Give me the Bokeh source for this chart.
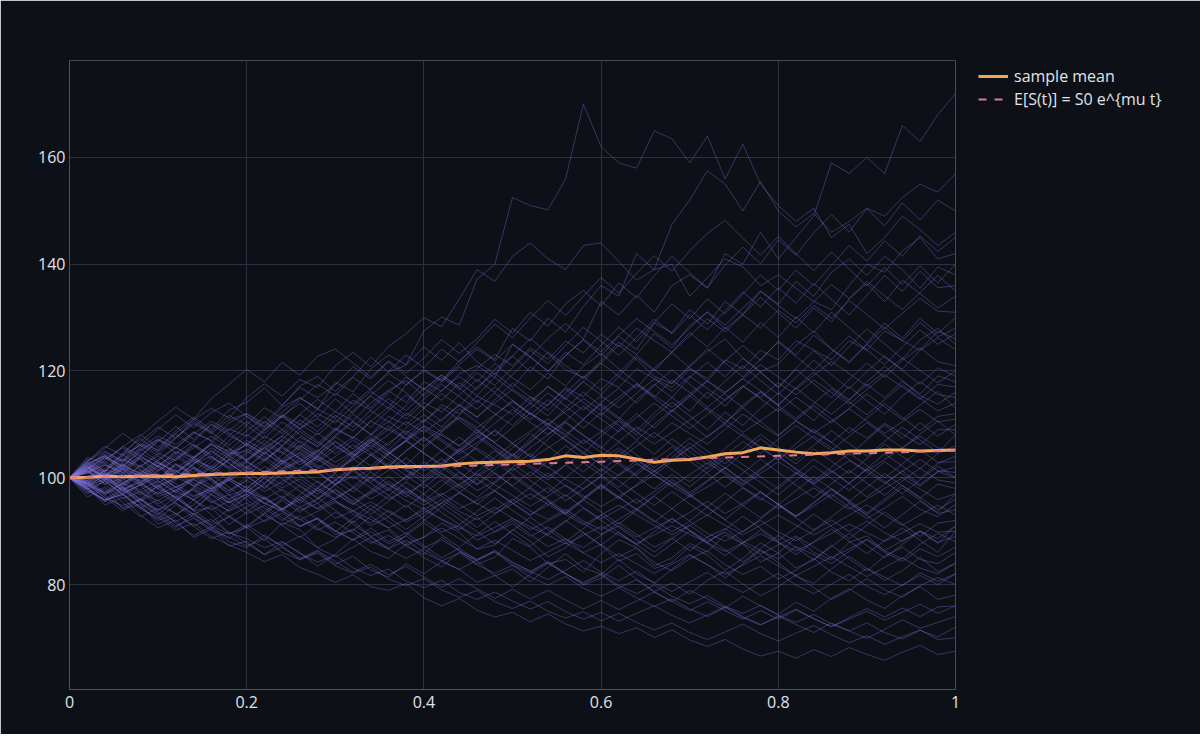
from bokeh.models import ColumnDataSource, Range1d, FixedTicker, Legend, LegendItem
from bokeh.plotting import figure
from bokeh.embed import file_html
from bokeh.resources import INLINE

# time grid of the simulated paths (years)
times = [0.00, 0.02, 0.04, 0.06, 0.08, 0.10, 0.12, 0.14, 0.16, 0.18, 0.20,
         0.22, 0.24, 0.26, 0.28, 0.30, 0.32, 0.34, 0.36, 0.38, 0.40,
         0.42, 0.44, 0.46, 0.48, 0.50, 0.52, 0.54, 0.56, 0.58, 0.60,
         0.62, 0.64, 0.66, 0.68, 0.70, 0.72, 0.74, 0.76, 0.78, 0.80,
         0.82, 0.84, 0.86, 0.88, 0.90, 0.92, 0.94, 0.96, 0.98, 1.00]

# sample mean across paths
sample_mean = [100.0, 100.1, 100.3, 100.2, 100.3, 100.3, 100.2, 100.4, 100.6, 100.7, 100.8,
               100.8, 100.9, 101.0, 101.1, 101.5, 101.7, 101.8, 102.0, 102.1, 102.1,
               102.2, 102.6, 102.8, 102.9, 103.0, 103.1, 103.4, 104.1, 103.8, 104.2,
               104.1, 103.5, 102.9, 103.3, 103.4, 103.9, 104.5, 104.7, 105.6, 105.2,
               104.8, 104.5, 104.7, 105.0, 105.0, 105.2, 105.2, 105.0, 105.1, 105.2]

# expected value E[S(t)]
exp_times = [0.0, 0.1, 0.2, 0.3, 0.4, 0.5, 0.6, 0.7, 0.8, 0.9, 1.0]
exp_values = [100.0, 100.5, 101.0, 101.5, 102.0, 102.5, 103.0, 103.6, 104.1, 104.6, 105.1]

# individual simulated paths
path_01 = [100, 102.3, 101.1, 104.0, 106.2, 104.8, 107.5, 110.1, 108.3, 110.9, 112.0,
           109.6, 113.2, 115.0, 112.8, 117.9, 116.1, 120.4, 123.0, 121.2, 127.5,
           130.1, 128.6, 137.2, 140.0, 152.5, 151.0, 150.2, 156.0, 170.0, 162.0,
           159.0, 158.0, 165.0, 163.5, 159.0, 164.0, 156.0, 162.5, 155.0, 151.0,
           148.0, 150.5, 145.0, 147.5, 142.0, 145.0, 149.0, 146.5, 143.5, 146.0]
path_02 = [100, 98.6, 100.9, 99.4, 102.2, 104.1, 101.8, 103.9, 106.3, 105.0, 108.1,
           106.2, 109.0, 111.8, 109.5, 112.4, 110.7, 114.0, 116.3, 114.1, 118.0,
           116.2, 119.5, 121.0, 118.8, 125.0, 122.6, 126.1, 128.9, 126.0, 133.0,
           130.5, 134.2, 131.0, 136.0, 138.0, 135.5, 142.0, 140.0, 146.0, 141.0,
           145.0, 149.0, 159.0, 157.0, 160.0, 157.0, 166.0, 163.0, 168.0, 172.0]
path_03 = [100, 101.4, 99.7, 102.5, 100.8, 103.2, 105.6, 103.9, 101.6, 104.4, 105.0,
           107.8, 106.0, 109.3, 111.1, 108.9, 112.6, 115.3, 113.0, 117.4, 120.0,
           118.1, 121.9, 124.5, 122.2, 128.0, 125.6, 129.9, 127.3, 132.1, 136.0,
           134.0, 142.0, 139.0, 147.5, 152.0, 157.5, 155.0, 150.0, 155.5, 150.0,
           147.0, 149.5, 146.0, 148.0, 150.5, 149.0, 152.5, 155.0, 153.5, 157.0]
path_04 = [100, 103.1, 105.0, 103.2, 106.8, 109.5, 107.4, 110.9, 113.0, 111.2, 115.0,
           117.6, 115.3, 118.4, 116.9, 121.0, 123.5, 120.8, 124.6, 127.0, 130.0,
           128.3, 133.5, 139.0, 136.8, 141.5, 144.0, 141.0, 139.0, 143.5, 144.0,
           140.5, 137.0, 139.0, 140.0, 134.0, 137.5, 141.0, 139.5, 136.0, 138.0,
           135.5, 133.0, 131.5, 136.0, 140.0, 138.5, 142.5, 145.0, 141.0, 142.0]
path_05 = [100, 97.8, 99.5, 96.9, 98.8, 97.0, 99.6, 101.9, 100.2, 103.5, 101.8,
           104.6, 102.9, 106.0, 104.1, 107.7, 110.4, 108.1, 111.5, 109.9, 113.0,
           115.8, 113.4, 117.0, 119.6, 116.9, 120.8, 118.5, 123.0, 125.8, 122.9,
           126.5, 124.0, 129.0, 127.2, 131.5, 128.8, 133.0, 130.6, 135.0, 132.5,
           136.8, 134.0, 138.5, 141.0, 137.9, 141.5, 139.0, 135.5, 139.5, 138.0]
path_06 = [100, 101.8, 104.2, 102.0, 105.3, 107.1, 104.6, 106.8, 109.9, 108.0, 110.5,
           108.2, 111.6, 113.9, 111.3, 114.8, 112.1, 115.5, 118.2, 115.9, 113.0,
           116.4, 119.0, 116.5, 120.3, 122.8, 119.9, 123.6, 121.0, 118.6, 122.0,
           125.4, 123.1, 127.0, 124.3, 128.5, 131.0, 127.9, 130.6, 133.8, 130.9,
           128.0, 131.8, 129.2, 133.5, 136.4, 133.0, 137.0, 134.5, 131.8, 134.0]
path_07 = [100, 98.9, 101.3, 103.6, 101.5, 99.7, 102.4, 100.6, 98.5, 101.2, 103.0,
           101.1, 104.3, 106.9, 104.8, 108.0, 110.6, 108.2, 106.0, 109.4, 111.8,
           109.5, 112.9, 110.4, 107.8, 111.2, 114.0, 111.6, 115.2, 118.0, 115.5,
           119.0, 116.8, 120.5, 123.4, 120.6, 118.1, 121.9, 124.8, 122.0, 125.6,
           123.0, 126.7, 124.1, 121.5, 125.0, 128.2, 125.6, 129.1, 126.4, 128.0]
path_08 = [100, 102.0, 100.3, 98.2, 100.9, 103.4, 105.8, 103.5, 106.3, 104.1, 101.9,
           104.8, 102.5, 105.6, 108.4, 106.0, 103.8, 106.9, 109.7, 107.3, 110.6,
           113.2, 110.8, 108.3, 111.7, 114.5, 112.0, 109.6, 113.1, 116.0, 113.4,
           111.0, 114.6, 117.5, 115.0, 118.8, 121.6, 118.9, 122.4, 119.7, 116.9,
           120.5, 123.8, 121.0, 124.6, 127.9, 125.1, 122.3, 125.8, 128.0, 125.0]
path_09 = [100, 99.1, 96.8, 98.9, 101.5, 99.4, 97.2, 99.8, 102.3, 100.1, 103.0,
           105.6, 103.2, 100.9, 103.9, 106.7, 104.3, 107.2, 104.8, 102.4, 105.5,
           108.3, 105.9, 109.1, 106.5, 104.0, 107.4, 110.2, 107.7, 111.0, 113.8,
           111.3, 108.8, 112.1, 115.0, 112.5, 116.1, 113.4, 117.0, 119.8, 116.9,
           120.3, 117.6, 115.0, 118.4, 121.5, 118.8, 122.0, 124.4, 121.7, 121.0]
path_10 = [100, 101.2, 98.9, 101.7, 99.3, 102.0, 104.4, 102.1, 99.8, 97.5, 100.2,
           98.0, 101.3, 103.7, 101.0, 98.6, 101.5, 104.3, 102.0, 105.1, 107.6,
           105.0, 102.7, 106.1, 109.0, 106.4, 103.9, 107.2, 110.3, 107.9, 105.5,
           108.9, 112.0, 109.3, 112.5, 115.4, 112.7, 110.1, 113.6, 116.2, 113.5,
           116.9, 119.8, 117.0, 114.6, 118.0, 120.9, 118.2, 115.7, 119.1, 118.0]
path_11 = [100, 97.6, 95.9, 98.2, 96.0, 93.8, 96.5, 94.1, 97.0, 99.6, 97.3,
           100.1, 102.8, 100.4, 98.1, 101.0, 103.6, 101.2, 104.5, 107.0, 104.6,
           102.2, 105.3, 108.1, 105.7, 103.4, 106.6, 109.5, 107.0, 104.5, 107.8,
           110.6, 108.0, 111.4, 114.2, 111.6, 109.0, 112.3, 109.8, 113.0, 115.9,
           113.3, 110.7, 114.0, 117.1, 114.4, 111.9, 115.3, 118.0, 115.6, 115.0]
path_12 = [100, 103.1, 105.9, 104.2, 107.8, 110.6, 113.2, 111.0, 114.8, 117.5, 120.3,
           118.0, 121.6, 119.2, 122.8, 124.1, 121.5, 118.9, 121.7, 119.0, 116.4,
           119.3, 116.8, 114.1, 117.0, 114.5, 111.8, 114.6, 112.0, 109.3, 112.2,
           109.8, 107.1, 110.0, 112.7, 110.1, 107.6, 110.4, 113.1, 110.5, 108.0,
           110.8, 113.5, 111.0, 108.4, 111.2, 113.9, 111.3, 108.8, 111.5, 112.0]
path_13 = [100, 98.3, 100.6, 98.1, 95.7, 98.4, 96.2, 93.9, 96.8, 94.5, 97.3,
           99.9, 97.5, 95.2, 98.0, 100.7, 98.3, 101.1, 98.8, 96.4, 99.3,
           102.0, 99.6, 102.5, 105.1, 102.7, 100.3, 103.2, 106.0, 103.6, 101.2,
           104.1, 106.9, 104.4, 107.3, 104.9, 102.5, 105.5, 108.2, 105.8, 103.3,
           106.4, 109.1, 106.6, 104.2, 107.1, 109.9, 107.4, 110.3, 107.8, 110.0]
path_14 = [100, 101.6, 103.9, 101.4, 104.2, 102.0, 99.7, 102.5, 105.1, 102.8, 100.4,
           103.2, 105.9, 103.5, 101.1, 98.8, 101.6, 104.3, 101.9, 99.5, 102.3,
           105.0, 107.6, 105.2, 102.8, 105.6, 108.3, 105.9, 103.5, 101.1, 103.9,
           106.7, 104.3, 101.9, 104.7, 107.4, 105.0, 102.6, 105.4, 108.1, 105.7,
           103.3, 106.1, 108.8, 106.4, 104.0, 106.8, 109.5, 107.1, 104.7, 108.0]
path_15 = [100, 99.4, 101.8, 104.3, 102.1, 99.8, 102.6, 100.3, 98.0, 95.8, 98.5,
           96.3, 94.0, 96.8, 99.4, 97.1, 94.9, 97.6, 100.3, 98.0, 95.7,
           98.4, 101.1, 98.8, 101.6, 104.2, 101.9, 99.6, 102.4, 100.1, 97.8,
           100.6, 103.3, 101.0, 103.8, 106.5, 104.1, 101.8, 104.6, 107.3, 104.9,
           102.6, 105.4, 103.1, 100.8, 103.6, 106.3, 104.0, 101.7, 104.5, 106.0]
path_16 = [100, 102.8, 100.5, 102.9, 105.4, 103.1, 100.7, 98.4, 101.0, 103.5, 101.2,
           98.9, 101.7, 104.3, 102.0, 99.6, 97.3, 100.0, 102.7, 100.4, 98.1,
           100.9, 98.6, 96.3, 99.0, 101.8, 99.5, 97.2, 100.0, 102.8, 100.5,
           98.2, 101.0, 103.8, 101.5, 99.2, 102.0, 104.8, 102.5, 100.2, 97.9,
           100.7, 103.5, 101.2, 98.9, 101.7, 104.5, 102.2, 99.9, 102.7, 104.0]
path_17 = [100, 98.0, 95.6, 97.9, 95.3, 93.1, 95.7, 98.2, 96.0, 93.7, 96.4,
           99.0, 101.5, 99.2, 96.9, 99.6, 102.2, 99.9, 97.6, 100.3, 103.0,
           100.7, 98.4, 101.1, 103.8, 106.4, 104.1, 101.8, 104.5, 107.1, 104.8,
           102.5, 100.2, 97.9, 100.6, 98.3, 101.0, 103.7, 101.4, 99.1, 96.8,
           99.5, 102.2, 99.9, 97.6, 100.3, 103.0, 100.7, 98.4, 101.1, 102.0]
path_18 = [100, 101.0, 103.3, 105.8, 108.1, 105.7, 108.4, 110.9, 108.5, 106.1, 108.8,
           111.4, 109.0, 106.6, 104.3, 106.9, 104.5, 102.2, 104.8, 102.5, 100.2,
           102.8, 105.4, 103.1, 100.8, 98.5, 101.1, 98.8, 96.5, 99.1, 101.7,
           99.4, 97.1, 94.8, 97.4, 95.1, 92.9, 95.5, 98.1, 95.8, 98.4,
           101.0, 98.7, 96.4, 99.0, 101.6, 99.3, 97.0, 99.6, 102.2, 100.0]
path_19 = [100, 97.2, 99.4, 96.8, 94.5, 92.3, 94.9, 92.6, 90.4, 92.9, 90.7,
           93.2, 95.8, 93.5, 96.1, 98.6, 96.3, 94.0, 96.6, 99.2, 96.9,
           94.6, 97.2, 99.8, 97.5, 95.2, 92.9, 95.5, 93.2, 95.8, 98.4,
           96.1, 98.7, 101.3, 99.0, 96.7, 99.3, 101.9, 99.6, 97.3, 95.0,
           97.6, 100.2, 97.9, 95.6, 98.2, 100.8, 98.5, 96.2, 98.8, 98.0]
path_20 = [100, 102.2, 99.9, 97.5, 99.8, 102.3, 100.0, 102.6, 105.0, 102.7, 100.4,
           98.1, 100.7, 98.4, 96.1, 98.7, 101.3, 99.0, 96.7, 94.4, 97.0,
           99.6, 97.3, 95.0, 97.6, 100.2, 97.9, 95.6, 93.3, 95.9, 93.6,
           91.3, 93.9, 96.5, 94.2, 91.9, 94.5, 97.1, 94.8, 92.5, 95.1,
           92.8, 95.4, 98.0, 95.7, 93.4, 96.0, 98.6, 96.3, 94.0, 96.0]
path_21 = [100, 98.7, 96.3, 93.8, 96.0, 98.5, 96.2, 93.9, 91.6, 94.1, 96.6,
           94.3, 92.0, 94.5, 92.2, 89.9, 92.4, 94.9, 92.6, 90.3, 92.8,
           95.3, 93.0, 90.7, 93.2, 95.7, 98.2, 95.9, 93.6, 96.1, 98.6,
           96.3, 94.0, 91.7, 94.2, 96.7, 94.4, 92.1, 89.8, 92.3, 94.8,
           92.5, 90.2, 92.7, 95.2, 92.9, 90.6, 93.1, 95.6, 93.3, 94.0]
path_22 = [100, 101.5, 103.8, 101.4, 99.0, 101.5, 104.0, 101.7, 99.4, 97.1, 99.6,
           102.1, 99.8, 97.5, 95.2, 97.7, 95.4, 93.1, 95.6, 98.1, 95.8,
           93.5, 91.2, 93.7, 96.2, 93.9, 91.6, 89.3, 91.8, 94.3, 92.0,
           89.7, 87.4, 89.9, 92.4, 90.1, 87.8, 90.3, 92.8, 90.5, 88.2,
           90.7, 93.2, 90.9, 88.6, 91.1, 93.6, 91.3, 89.0, 91.5, 92.0]
path_23 = [100, 97.9, 95.5, 97.6, 95.2, 92.9, 90.7, 93.1, 90.8, 88.6, 91.0,
           93.4, 91.1, 88.8, 91.2, 93.6, 91.3, 89.0, 86.8, 89.2, 91.6,
           89.3, 87.0, 89.4, 91.8, 89.5, 87.2, 89.6, 92.0, 89.7, 87.4,
           89.8, 87.5, 85.2, 87.6, 90.0, 87.7, 85.4, 87.8, 90.2, 87.9,
           85.6, 88.0, 90.4, 88.1, 85.8, 88.2, 90.6, 88.3, 86.0, 90.0]
path_24 = [100, 96.4, 97.9, 94.2, 95.0, 91.3, 92.8, 95.9, 93.1, 89.5, 90.7,
           88.2, 91.6, 90.3, 86.9, 88.5, 91.9, 89.0, 90.2, 87.1, 85.6,
           88.9, 86.4, 83.8, 85.1, 88.6, 87.0, 83.9, 84.7, 82.3, 85.8,
           88.4, 86.9, 83.5, 85.0, 87.7, 86.1, 89.3, 87.6, 84.2, 85.9,
           88.8, 86.0, 84.6, 87.9, 89.1, 86.3, 84.8, 87.5, 89.6, 88.0]
path_25 = [100, 101.9, 100.7, 97.3, 98.6, 95.1, 96.9, 93.8, 94.4, 91.2, 93.5,
           96.2, 94.0, 90.9, 92.3, 89.4, 90.1, 92.8, 90.6, 87.7, 88.9,
           91.5, 89.8, 86.6, 87.4, 90.3, 88.1, 85.2, 86.9, 89.7, 87.3,
           84.4, 85.8, 83.0, 84.1, 87.2, 85.5, 82.7, 84.9, 87.8, 85.9,
           83.1, 84.6, 87.4, 84.8, 82.5, 85.3, 87.0, 84.7, 83.9, 86.0]
path_26 = [100, 98.1, 94.9, 96.3, 93.0, 90.6, 92.1, 88.8, 90.4, 87.2, 88.1,
           85.6, 87.9, 86.0, 83.4, 85.7, 88.5, 86.2, 84.9, 87.6, 85.0,
           83.3, 86.1, 84.4, 81.6, 82.9, 80.5, 83.2, 85.8, 83.1, 81.9,
           84.7, 82.0, 80.3, 82.8, 85.5, 83.7, 81.2, 83.9, 86.4, 84.1,
           81.5, 80.2, 82.9, 85.3, 83.0, 80.8, 82.6, 85.1, 82.4, 84.0]
path_27 = [100, 102.7, 104.1, 101.8, 103.6, 100.2, 101.5, 98.4, 99.9, 96.7, 97.8,
           95.1, 96.6, 93.9, 95.2, 92.4, 93.8, 91.0, 92.7, 94.9, 92.2,
           89.8, 91.1, 88.3, 89.9, 92.0, 89.4, 87.1, 88.6, 86.0, 87.5,
           85.2, 86.9, 84.1, 82.6, 84.8, 86.3, 83.7, 81.9, 83.4, 81.0,
           82.7, 84.9, 82.3, 80.7, 83.0, 81.4, 79.8, 82.2, 80.6, 82.0]
path_28 = [100, 97.0, 98.2, 95.4, 92.7, 94.3, 91.5, 89.2, 90.8, 88.0, 86.9,
           89.3, 87.1, 84.6, 86.2, 83.8, 85.3, 82.7, 81.4, 83.9, 82.0,
           84.3, 82.8, 80.4, 81.7, 79.5, 81.9, 84.0, 82.1, 79.9, 81.2,
           83.6, 81.0, 78.7, 80.3, 78.2, 80.8, 82.5, 80.1, 77.9, 79.6,
           81.8, 79.4, 77.2, 78.9, 81.1, 79.0, 77.6, 79.8, 81.3, 80.0]
path_29 = [100, 101.3, 98.8, 99.9, 97.2, 98.8, 96.0, 97.7, 95.3, 96.9, 94.1,
           91.8, 93.4, 90.9, 92.5, 90.1, 88.4, 90.6, 88.0, 89.7, 87.3,
           85.0, 86.8, 84.5, 86.1, 83.6, 82.2, 84.4, 82.0, 80.1, 81.8,
           79.4, 80.9, 78.6, 76.8, 78.9, 77.3, 75.6, 77.8, 76.0, 74.4,
           76.7, 75.0, 77.4, 79.2, 77.1, 75.5, 77.9, 79.6, 77.2, 78.0]
path_30 = [100, 101.2, 98.7, 96.1, 97.4, 94.8, 93.3, 91.0, 92.2, 89.7, 88.6,
           86.9, 88.1, 85.8, 84.2, 85.5, 83.1, 81.7, 82.9, 80.6, 79.4,
           80.8, 78.5, 77.2, 78.6, 76.9, 75.4, 76.8, 74.9, 73.5, 74.8,
           73.1, 74.6, 76.0, 74.2, 72.8, 74.3, 75.9, 74.0, 72.5, 73.9,
           75.4, 73.6, 72.1, 73.5, 75.0, 73.3, 74.8, 76.3, 74.6, 76.0]
path_31 = [100, 99.0, 101.4, 99.1, 100.6, 98.0, 96.4, 97.9, 95.6, 93.8, 95.3,
           93.0, 91.2, 92.9, 90.5, 88.8, 90.4, 88.1, 86.7, 88.3, 86.0,
           84.4, 85.9, 83.7, 82.1, 83.6, 81.4, 79.9, 81.5, 79.3, 77.8,
           79.4, 77.5, 75.9, 77.3, 75.4, 74.0, 75.7, 73.8, 72.4, 74.1,
           72.5, 71.0, 72.8, 71.3, 69.9, 71.6, 73.4, 71.8, 72.9, 74.0]
path_32 = [100, 102.1, 100.0, 97.7, 99.2, 96.9, 98.3, 95.8, 94.0, 95.6, 93.2,
           94.8, 92.5, 90.9, 92.4, 90.0, 88.3, 89.9, 87.6, 89.1, 86.9,
           88.4, 86.3, 84.7, 86.2, 84.0, 82.5, 84.1, 81.9, 80.4, 82.0,
           79.8, 78.3, 79.9, 77.8, 76.4, 77.9, 75.9, 74.6, 76.1, 74.2,
           72.9, 74.4, 72.6, 71.3, 72.8, 71.0, 69.8, 71.4, 70.2, 72.0]
path_33 = [100, 98.9, 96.2, 94.8, 96.0, 93.3, 91.0, 92.4, 90.1, 88.9, 87.2,
           88.6, 86.0, 84.7, 85.9, 83.5, 82.1, 83.3, 81.0, 79.8, 81.1,
           79.0, 77.6, 78.9, 76.8, 75.5, 76.9, 75.0, 73.7, 74.9, 73.2,
           74.6, 72.9, 71.5, 72.8, 71.0, 69.7, 71.1, 72.6, 70.8, 69.4,
           70.9, 72.3, 70.6, 69.1, 70.4, 68.8, 70.2, 71.5, 69.7, 70.0]
path_34 = [100, 97.6, 95.9, 96.8, 94.1, 92.6, 90.2, 91.5, 89.0, 87.4, 86.0,
           84.3, 85.6, 83.2, 81.9, 80.4, 81.8, 79.6, 78.9, 80.2, 77.5,
           76.0, 77.4, 75.2, 73.9, 74.8, 73.0, 74.5, 72.6, 71.3, 72.2,
           70.8, 71.9, 70.1, 71.5, 69.6, 68.4, 69.7, 67.9, 66.6, 67.5,
           66.2, 67.8, 66.5, 68.2, 66.9, 65.8, 67.3, 68.6, 66.9, 67.5]
path_35 = [100, 98.3, 95.7, 97.1, 94.4, 95.8, 93.2, 94.9, 97.6, 95.3, 97.9,
           100.6, 98.7, 101.8, 104.0, 101.9, 104.7, 107.5, 105.2, 108.3, 110.9,
           108.6, 111.8, 114.5, 112.0, 109.8, 113.0, 115.9, 113.4, 110.9, 114.1,
           116.8, 114.0, 117.3, 120.2, 117.5, 114.9, 118.1, 121.0, 118.2, 115.6,
           118.8, 122.0, 119.3, 116.7, 119.9, 122.8, 120.1, 117.5, 120.6, 119.0]
path_36 = [100, 103.0, 105.6, 108.3, 106.0, 109.1, 111.8, 109.4, 112.2, 114.0, 111.5,
           109.0, 111.7, 109.2, 106.8, 104.5, 107.1, 104.7, 102.3, 105.0, 107.5,
           105.1, 102.7, 100.4, 103.0, 100.6, 98.3, 100.9, 98.5, 96.2, 98.8,
           96.4, 94.1, 96.7, 99.2, 96.9, 94.5, 92.2, 94.8, 97.3, 95.0,
           92.7, 95.2, 97.8, 95.4, 93.1, 95.6, 98.1, 95.8, 93.5, 97.0]
path_37 = [100, 100.8, 103.0, 100.9, 98.7, 101.2, 103.6, 106.3, 104.0, 101.8, 104.5,
           107.0, 104.8, 102.4, 105.0, 107.7, 105.4, 108.0, 110.6, 108.3, 105.9,
           108.6, 111.2, 108.9, 106.5, 104.2, 106.8, 109.4, 107.1, 104.8, 102.5,
           105.1, 102.8, 100.5, 103.1, 105.7, 103.4, 101.1, 98.8, 101.4, 104.0,
           101.7, 99.4, 102.0, 104.6, 102.3, 100.0, 102.6, 105.2, 102.9, 103.0]
path_38 = [100, 99.5, 97.3, 99.8, 102.4, 100.0, 97.6, 100.3, 103.0, 105.4, 103.1,
           100.8, 103.4, 106.1, 103.7, 101.4, 104.0, 106.7, 104.3, 107.0, 109.6,
           107.2, 104.9, 107.5, 110.2, 112.8, 110.4, 108.1, 110.7, 113.4, 111.0,
           108.6, 111.3, 114.0, 111.6, 109.2, 111.9, 114.6, 117.2, 114.8, 112.4,
           115.1, 112.7, 110.3, 113.0, 115.7, 113.3, 110.9, 113.6, 116.2, 113.0]
path_39 = [100, 102.4, 100.1, 102.6, 100.3, 97.9, 95.6, 98.1, 100.6, 98.2, 95.9,
           93.6, 96.1, 98.6, 96.3, 93.9, 91.6, 94.1, 91.8, 89.5, 92.0,
           94.5, 92.2, 89.9, 87.6, 90.1, 92.6, 90.3, 88.0, 90.5, 93.0,
           90.7, 88.4, 86.1, 88.6, 91.1, 88.8, 86.5, 84.2, 86.7, 89.2,
           86.9, 84.6, 87.1, 89.6, 87.3, 85.0, 87.5, 90.0, 87.7, 91.0]
path_40 = [100, 103.5, 101.2, 104.7, 107.3, 105.0, 108.2, 106.0, 103.6, 106.9, 109.8,
           107.4, 110.5, 108.1, 105.7, 108.8, 111.9, 109.4, 112.6, 115.5, 113.0,
           110.6, 113.8, 111.3, 114.6, 117.7, 115.1, 112.6, 115.9, 119.0, 116.4,
           119.7, 122.9, 120.3, 117.7, 121.0, 124.2, 121.5, 118.9, 122.2, 125.4,
           122.7, 120.1, 123.4, 126.6, 123.9, 121.2, 124.5, 127.7, 125.0, 127.0]
path_41 = [100, 101.9, 104.8, 103.1, 106.4, 105.2, 108.9, 111.3, 109.0, 112.7, 114.1,
           116.8, 113.5, 117.2, 119.0, 116.2, 118.9, 122.6, 119.8, 121.1, 124.5,
           122.0, 125.3, 121.7, 119.4, 122.8, 126.1, 123.3, 120.2, 118.8, 121.5,
           124.9, 122.1, 119.0, 117.6, 120.8, 123.7, 126.0, 122.4, 119.9, 121.3,
           124.8, 127.5, 124.1, 121.8, 125.0, 122.6, 120.3, 123.9, 126.2, 124.0]
path_42 = [100, 99.2, 101.5, 100.6, 103.8, 102.1, 104.9, 103.7, 106.6, 109.2, 107.8,
           110.5, 108.3, 111.9, 114.7, 112.4, 115.8, 113.1, 116.4, 118.2, 115.3,
           117.9, 120.8, 118.0, 121.4, 118.7, 116.5, 119.6, 117.2, 120.9, 123.3,
           120.4, 117.8, 115.1, 118.3, 116.0, 113.2, 115.9, 118.6, 116.3, 113.7,
           116.8, 114.2, 111.9, 114.6, 117.5, 115.0, 118.1, 115.4, 113.8, 116.0]
path_43 = [100, 101.1, 99.6, 102.2, 100.8, 98.5, 99.9, 102.7, 104.0, 101.6, 103.3,
           105.9, 103.0, 104.6, 102.3, 100.9, 103.8, 106.2, 104.1, 101.5, 99.8,
           102.4, 100.1, 97.6, 99.3, 101.9, 104.6, 102.0, 99.7, 97.9, 100.4,
           102.9, 100.5, 103.3, 105.8, 103.1, 100.8, 98.2, 100.9, 103.5, 101.0,
           98.6, 96.3, 98.9, 101.4, 99.0, 96.7, 99.4, 101.8, 99.6, 99.0]
path_44 = [100, 98.8, 100.2, 97.9, 99.1, 96.5, 97.7, 95.9, 98.4, 96.0, 97.6,
           95.2, 93.8, 96.5, 94.1, 95.7, 93.2, 91.5, 93.9, 92.0, 94.4,
           92.1, 90.3, 92.6, 89.8, 91.4, 89.0, 90.8, 88.5, 86.9, 89.2,
           91.6, 89.4, 87.0, 88.7, 86.3, 88.9, 90.5, 88.1, 86.4, 84.8,
           87.1, 85.6, 83.9, 86.2, 88.4, 86.0, 84.3, 86.7, 85.2, 87.0]
path_45 = [100, 101.7, 100.2, 103.5, 102.0, 104.6, 103.2, 106.1, 104.4, 107.9, 106.3,
           109.1, 111.8, 110.0, 112.9, 111.2, 114.5, 112.7, 115.9, 118.8, 116.6,
           119.2, 117.0, 120.5, 123.1, 121.0, 124.3, 122.2, 125.6, 123.4, 126.9,
           124.5, 128.0, 125.7, 123.5, 126.6, 129.8, 127.3, 130.5, 128.1, 131.4,
           129.0, 132.3, 129.9, 133.2, 130.6, 127.9, 130.8, 133.6, 131.2, 131.0]
path_46 = [100, 102.6, 101.0, 98.7, 100.4, 102.9, 101.3, 99.0, 97.4, 99.9, 98.1,
           100.6, 103.2, 101.5, 104.1, 102.2, 99.8, 101.7, 104.4, 106.9, 104.6,
           102.5, 105.0, 107.7, 105.3, 103.0, 105.6, 108.1, 110.5, 108.0, 105.8,
           103.4, 105.9, 108.5, 106.2, 103.9, 101.6, 104.2, 106.8, 104.5, 107.2,
           109.8, 107.4, 105.1, 107.8, 110.3, 107.9, 105.6, 108.2, 110.6, 108.0]
path_47 = [100, 98.5, 99.7, 101.6, 99.3, 100.8, 98.9, 96.6, 97.8, 95.4, 96.9,
           98.7, 96.2, 94.5, 96.0, 97.9, 95.6, 97.3, 99.4, 97.1, 98.9,
           96.5, 94.2, 95.8, 97.6, 95.3, 93.1, 94.9, 96.8, 94.4, 92.3,
           94.1, 96.0, 93.7, 91.6, 93.5, 95.6, 93.3, 95.2, 97.4, 95.0,
           92.8, 94.7, 96.9, 94.5, 92.4, 94.3, 96.5, 94.1, 92.7, 95.0]
path_48 = [100, 102.3, 104.4, 103.0, 105.7, 107.8, 106.2, 108.5, 106.9, 104.6, 106.1,
           103.9, 101.7, 103.2, 100.9, 98.8, 100.3, 98.1, 96.0, 97.6, 95.5,
           97.1, 95.0, 92.9, 94.5, 92.4, 90.3, 91.9, 93.6, 91.5, 89.4,
           91.0, 88.9, 90.6, 92.3, 90.2, 88.1, 89.8, 87.7, 85.7, 87.4,
           89.1, 87.0, 85.0, 86.7, 88.5, 86.4, 88.2, 90.0, 87.9, 89.0]
path_49 = [100, 97.9, 99.3, 97.0, 98.6, 100.5, 98.2, 99.9, 101.8, 99.5, 101.4,
           103.4, 101.1, 103.1, 105.2, 102.9, 104.9, 107.1, 104.8, 106.9, 109.1,
           106.8, 104.5, 106.6, 108.8, 106.5, 108.7, 111.0, 108.7, 106.4, 108.6,
           110.9, 108.6, 106.3, 108.5, 110.8, 113.1, 110.8, 108.5, 110.7, 113.0,
           110.7, 108.4, 110.6, 112.9, 110.6, 108.3, 110.5, 112.8, 110.5, 111.0]
path_50 = [100, 99.3, 97.0, 98.2, 96.1, 94.0, 95.3, 93.2, 91.2, 92.6, 90.6,
           92.0, 94.3, 92.2, 90.2, 91.7, 89.7, 87.7, 89.2, 87.3, 88.9,
           90.6, 88.6, 86.7, 88.3, 86.4, 84.5, 86.1, 87.8, 85.9, 84.1,
           85.8, 83.9, 82.1, 83.8, 85.6, 83.7, 81.9, 83.6, 85.4, 83.5,
           81.7, 83.4, 85.2, 83.3, 81.5, 83.2, 85.0, 83.1, 82.0, 84.0]
path_51 = [100, 102.0, 99.7, 97.8, 95.6, 97.4, 95.2, 93.1, 94.8, 92.7, 94.5,
           96.4, 94.2, 96.1, 98.1, 96.0, 98.0, 100.1, 98.0, 100.1, 102.2,
           100.1, 98.0, 100.1, 102.3, 104.5, 102.3, 100.2, 102.4, 104.6, 102.5,
           100.4, 102.6, 100.5, 98.4, 100.6, 102.8, 100.7, 98.6, 100.8, 103.0,
           100.9, 98.8, 101.0, 103.2, 101.1, 99.0, 101.2, 103.4, 101.3, 101.0]
path_52 = [100, 102.5, 104.1, 102.2, 105.0, 107.3, 105.6, 108.2, 110.6, 108.8, 111.5,
           109.5, 112.3, 115.0, 113.0, 115.8, 113.8, 116.7, 119.5, 117.4, 120.3,
           118.2, 121.2, 124.1, 121.9, 125.0, 122.7, 119.9, 122.9, 125.9, 123.6,
           126.7, 129.8, 127.4, 124.9, 128.0, 131.1, 128.6, 131.8, 134.9, 132.3,
           129.8, 133.0, 136.2, 133.6, 136.8, 134.1, 131.5, 134.7, 137.9, 135.0]
path_53 = [100, 101.0, 102.6, 100.5, 98.6, 100.3, 98.3, 96.4, 98.1, 100.0, 98.0,
           96.0, 94.1, 95.8, 97.7, 95.7, 93.8, 95.5, 93.6, 91.7, 93.4,
           95.3, 97.2, 95.2, 93.3, 95.1, 97.0, 95.0, 93.1, 91.2, 93.0,
           94.9, 93.0, 91.1, 89.3, 91.1, 93.0, 91.1, 89.3, 91.1, 93.0,
           91.1, 89.3, 91.1, 93.0, 94.9, 93.0, 91.1, 93.0, 94.9, 93.0]
path_54 = [100, 99.0, 97.2, 98.9, 100.9, 99.0, 101.0, 103.1, 101.2, 103.3, 105.4,
           103.4, 105.6, 103.7, 101.8, 104.0, 106.2, 104.2, 106.5, 108.8, 106.8,
           109.1, 111.4, 109.4, 111.8, 114.2, 112.1, 110.0, 112.4, 114.8, 112.6,
           115.1, 117.6, 115.4, 113.2, 115.7, 118.2, 116.0, 118.6, 121.2, 118.9,
           116.6, 119.2, 121.8, 119.5, 117.2, 119.8, 122.4, 120.1, 117.8, 120.0]
path_55 = [100, 98.4, 100.4, 102.2, 100.1, 98.0, 99.9, 101.8, 99.7, 97.6, 99.5,
           97.4, 99.3, 101.3, 99.2, 97.1, 95.1, 97.0, 98.9, 96.9, 94.9,
           96.8, 98.8, 100.8, 98.7, 96.7, 94.7, 96.6, 98.6, 96.6, 94.6,
           96.5, 98.5, 100.5, 98.4, 96.4, 98.3, 100.3, 98.2, 96.2, 94.2,
           96.1, 98.1, 96.1, 94.1, 96.0, 98.0, 100.0, 97.9, 95.9, 97.0]
path_56 = [100, 101.3, 103.5, 105.6, 103.4, 101.3, 103.4, 105.6, 107.8, 105.6, 103.4,
           105.6, 107.8, 105.6, 103.4, 101.3, 103.4, 105.6, 103.4, 101.3, 99.2,
           101.3, 103.4, 105.6, 103.4, 101.3, 103.4, 105.6, 107.8, 105.6, 103.4,
           105.6, 103.4, 101.3, 103.4, 105.6, 107.8, 110.0, 107.8, 105.6, 103.4,
           105.6, 107.8, 105.6, 103.4, 101.3, 103.4, 105.6, 107.8, 105.6, 105.0]
path_57 = [100, 103.8, 102.7, 105.9, 104.1, 106.8, 109.6, 107.2, 110.1, 108.4, 106.0,
           108.8, 111.5, 109.1, 112.0, 110.3, 113.4, 116.2, 114.0, 111.6, 114.7,
           117.5, 115.2, 112.8, 115.9, 113.3, 110.9, 113.8, 116.6, 114.1, 111.7,
           114.5, 117.4, 114.9, 112.4, 115.2, 118.1, 115.6, 113.2, 116.0, 113.5,
           111.1, 113.9, 116.7, 114.2, 111.8, 114.6, 117.4, 114.9, 112.5, 114.0]
path_58 = [100, 98.9, 96.7, 94.4, 95.9, 93.6, 91.8, 93.4, 91.1, 89.4, 91.2,
           89.0, 87.3, 89.1, 86.9, 85.2, 87.0, 88.8, 86.6, 84.9, 86.7,
           84.5, 82.8, 84.6, 86.4, 84.2, 82.5, 80.9, 82.7, 84.5, 82.3,
           80.7, 82.5, 80.3, 78.7, 80.5, 82.3, 80.1, 78.5, 80.3, 82.1,
           79.9, 78.3, 80.1, 81.9, 79.7, 78.1, 79.9, 81.7, 80.0, 82.0]
path_59 = [100, 99.6, 102.4, 101.0, 103.9, 102.2, 100.6, 103.5, 102.0, 104.9, 103.3,
           106.3, 104.6, 107.6, 106.0, 109.1, 107.4, 110.6, 108.9, 112.1, 110.4,
           113.7, 112.0, 115.3, 113.6, 111.9, 115.2, 113.5, 116.9, 115.2, 118.6,
           116.9, 120.4, 118.6, 116.9, 120.4, 118.6, 122.1, 120.4, 123.9, 122.1,
           125.7, 123.9, 122.1, 125.7, 123.9, 127.5, 125.7, 123.9, 127.5, 126.0]
path_60 = [100, 101.6, 100.0, 98.4, 96.8, 98.4, 100.1, 98.5, 96.9, 95.3, 96.9,
           95.3, 93.7, 92.1, 93.7, 95.4, 93.8, 92.2, 90.6, 92.2, 93.9,
           92.3, 90.7, 89.1, 90.7, 92.4, 90.8, 89.2, 87.6, 89.2, 90.9,
           89.3, 87.7, 89.3, 91.0, 89.4, 87.8, 86.2, 87.8, 89.5, 87.9,
           86.3, 87.9, 89.6, 91.3, 89.7, 88.1, 89.7, 91.4, 89.8, 90.0]
path_61 = [100, 101.5, 103.9, 102.2, 104.0, 107.1, 105.5, 108.6, 107.0, 110.3, 112.0,
           110.2, 113.6, 116.9, 115.0, 117.4, 120.8, 118.5, 121.9, 119.6, 122.4,
           125.9, 123.3, 126.0, 129.7, 127.1, 131.0, 128.4, 132.6, 135.1, 132.2,
           136.5, 133.7, 137.9, 141.5, 138.4, 135.6, 139.9, 143.2, 140.1, 144.6,
           141.7, 145.9, 149.3, 146.0, 150.4, 147.2, 151.5, 148.3, 152.0, 150.0]
path_62 = [100, 99.0, 100.8, 98.6, 101.2, 99.8, 102.6, 101.0, 103.7, 102.1, 104.9,
           103.2, 106.0, 108.7, 106.4, 109.3, 107.5, 110.6, 113.2, 111.0, 114.1,
           112.3, 115.5, 118.4, 116.0, 119.3, 122.6, 120.0, 123.5, 121.2, 124.8,
           128.2, 125.5, 129.1, 132.6, 129.8, 133.5, 130.7, 134.4, 138.0, 135.1,
           138.9, 136.0, 139.8, 143.5, 140.6, 144.4, 141.5, 145.3, 142.4, 145.0]
path_63 = [100, 102.9, 101.3, 104.4, 106.0, 104.2, 107.5, 110.4, 108.6, 111.7, 109.9,
           113.1, 111.2, 114.6, 117.5, 115.4, 118.8, 116.5, 119.9, 123.0, 120.6,
           124.1, 121.7, 125.3, 128.8, 126.2, 129.9, 133.2, 130.4, 134.0, 137.5,
           134.6, 138.3, 141.6, 138.7, 142.5, 145.8, 148.2, 144.9, 141.7, 145.2,
           142.0, 138.8, 142.3, 139.1, 135.9, 139.4, 136.2, 139.7, 136.5, 140.0]
path_64 = [100, 98.2, 99.9, 101.8, 100.0, 102.3, 104.8, 103.0, 105.6, 103.7, 106.4,
           104.4, 107.2, 110.1, 108.0, 110.9, 108.8, 111.8, 114.8, 112.6, 115.7,
           118.8, 116.5, 119.7, 117.3, 120.6, 123.9, 121.4, 124.8, 128.2, 125.6,
           122.9, 126.3, 129.7, 127.0, 130.5, 127.7, 131.2, 134.8, 132.0, 135.6,
           132.7, 136.4, 133.4, 130.5, 134.2, 137.9, 134.9, 138.7, 135.6, 136.0]
path_65 = [100, 101.3, 99.4, 101.9, 100.2, 102.8, 101.0, 103.7, 106.2, 104.3, 107.0,
           105.1, 107.9, 110.8, 108.7, 111.7, 109.5, 112.6, 110.4, 113.6, 116.8,
           114.5, 117.8, 115.4, 118.8, 116.3, 113.9, 117.2, 114.7, 118.1, 121.5,
           119.0, 122.5, 120.0, 123.6, 127.2, 124.5, 128.2, 125.4, 129.1, 126.3,
           130.1, 127.2, 131.0, 128.1, 125.3, 129.0, 126.1, 129.9, 127.0, 130.0]
path_66 = [100, 100.9, 102.4, 101.0, 99.1, 100.7, 98.2, 99.8, 97.9, 99.6, 101.8,
           100.0, 98.1, 99.8, 97.5, 99.5, 101.6, 99.2, 101.4, 103.7, 101.3,
           103.6, 101.1, 98.7, 100.9, 98.4, 96.0, 98.2, 95.7, 97.9, 100.2,
           97.7, 95.2, 97.4, 99.7, 97.2, 99.5, 101.9, 99.3, 101.7, 104.1,
           101.5, 99.0, 101.4, 98.9, 96.4, 98.8, 101.3, 98.7, 101.2, 100.0]
path_67 = [100, 99.5, 101.1, 99.0, 97.7, 99.4, 97.3, 95.9, 97.7, 99.6, 97.5,
           96.0, 97.9, 95.8, 94.3, 96.2, 98.2, 96.0, 97.9, 95.7, 94.1,
           95.9, 93.7, 92.1, 94.0, 96.0, 93.8, 92.2, 94.1, 91.9, 90.3,
           92.2, 94.2, 92.0, 89.9, 91.8, 89.6, 88.1, 90.0, 92.0, 89.8,
           88.2, 90.1, 92.1, 89.9, 91.9, 89.7, 88.1, 90.0, 88.6, 91.0]
path_68 = [100, 98.0, 95.8, 96.9, 94.5, 92.0, 93.3, 90.9, 88.6, 89.9, 87.7,
           85.6, 87.0, 84.9, 86.4, 84.3, 82.3, 83.8, 81.8, 83.4, 81.4,
           79.5, 81.1, 79.2, 77.4, 79.1, 77.3, 78.9, 77.1, 75.4, 77.0,
           75.3, 76.9, 78.6, 76.8, 75.1, 76.8, 75.1, 73.5, 75.1, 73.5,
           75.2, 73.6, 72.1, 73.8, 75.5, 73.9, 75.6, 74.0, 75.8, 76.0]
path_69 = [100, 101.9, 100.3, 102.5, 104.6, 102.8, 101.1, 103.4, 101.7, 104.1, 106.4,
           104.6, 107.0, 105.2, 103.4, 105.9, 104.1, 106.6, 109.1, 107.2, 109.8,
           107.9, 106.0, 108.6, 106.7, 109.4, 112.1, 110.1, 108.1, 110.8, 108.8,
           106.8, 109.5, 107.5, 110.3, 108.3, 106.3, 109.1, 111.9, 109.8, 107.8,
           110.6, 108.6, 106.6, 109.4, 107.4, 110.2, 108.2, 106.2, 109.0, 109.0]
path_70 = [100, 98.7, 97.1, 98.9, 97.2, 95.7, 97.6, 99.6, 97.9, 100.0, 102.1,
           100.4, 102.6, 104.8, 103.0, 105.3, 107.6, 105.7, 108.1, 110.5, 108.5,
           111.0, 113.5, 111.4, 114.0, 116.6, 114.4, 117.0, 114.8, 112.7, 115.3,
           113.1, 115.8, 118.5, 116.2, 119.0, 116.7, 114.5, 117.2, 115.0, 117.8,
           115.5, 118.3, 116.0, 113.8, 116.5, 119.3, 117.0, 114.7, 117.5, 117.0]

paths = [path_01, path_02, path_03, path_04, path_05, path_06, path_07, path_08,
         path_09, path_10, path_11, path_12, path_13, path_14, path_15, path_16,
         path_17, path_18, path_19, path_20, path_21, path_22, path_23, path_24,
         path_25, path_26, path_27, path_28, path_29, path_30, path_31, path_32,
         path_33, path_34, path_35, path_36, path_37, path_38, path_39, path_40,
         path_41, path_42, path_43, path_44, path_45, path_46, path_47, path_48,
         path_49, path_50, path_51, path_52, path_53, path_54, path_55, path_56,
         path_57, path_58, path_59, path_60, path_61, path_62, path_63, path_64,
         path_65, path_66, path_67, path_68, path_69, path_70]

x_ticks = [0, 0.2, 0.4, 0.6, 0.8, 1]
x_tick_labels = {0: "0", 0.2: "0.2", 0.4: "0.4", 0.6: "0.6", 0.8: "0.8", 1: "1"}
y_ticks = [80, 100, 120, 140, 160]

bg = "#0d1017"
font = "Open Sans"

p = figure(frame_width=886, frame_height=629,
           min_border_left=69, min_border_right=229, min_border_top=60, min_border_bottom=45,
           x_range=Range1d(0, 1), y_range=Range1d(60.33, 178.17),
           output_backend="svg", toolbar_location=None)
p.background_fill_color = bg
p.border_fill_color = bg
p.outline_line_color = None

# simulated paths
src_paths = ColumnDataSource(dict(xs=[times[:len(ys)] for ys in paths], ys=paths))
p.multi_line(xs='xs', ys='ys', source=src_paths, line_color="#8676ea", line_alpha=0.36, line_width=1)

# sample mean and theoretical expectation
r_mean = p.line(times, sample_mean, line_color="#f2a65a", line_width=3)
r_exp = p.line(exp_times, exp_values, line_color="#dc7a90", line_width=2, line_dash="8 8")

# axes / grid
for ax in (p.xaxis[0], p.yaxis[0]):
    ax.axis_line_color = "#4b5262"
    ax.major_tick_line_color = None
    ax.major_tick_out = 0
    ax.major_tick_in = 0
    ax.minor_tick_line_color = None
    ax.minor_tick_out = 0
    ax.major_label_text_color = "#e0e3e8"
    ax.major_label_text_font = font
    ax.major_label_text_font_size = "16px"
p.xaxis.ticker = FixedTicker(ticks=x_ticks)
p.xaxis.major_label_overrides = x_tick_labels
p.xaxis.major_label_standoff = 6
p.yaxis.ticker = FixedTicker(ticks=y_ticks)
p.yaxis.major_label_standoff = 4

p.xgrid.ticker = FixedTicker(ticks=x_ticks)
p.ygrid.ticker = FixedTicker(ticks=y_ticks)
p.grid.grid_line_color = "#2a3140"
p.grid.grid_line_width = 1

legend = Legend(items=[LegendItem(label="sample mean", renderers=[r_mean]),
                       LegendItem(label="E[S(t)] = S0 e^{mu t}", renderers=[r_exp])],
                location=(23, 579), orientation="vertical")
legend.background_fill_alpha = 0
legend.border_line_color = None
legend.padding = 0
legend.margin = 0
legend.spacing = 1
legend.glyph_width = 30
legend.label_standoff = 6
legend.label_text_color = "#e0e3e8"
legend.label_text_font = font
legend.label_text_font_size = "16px"
p.add_layout(legend, "right")

open("out.html", "w").write(file_html(p, INLINE))
